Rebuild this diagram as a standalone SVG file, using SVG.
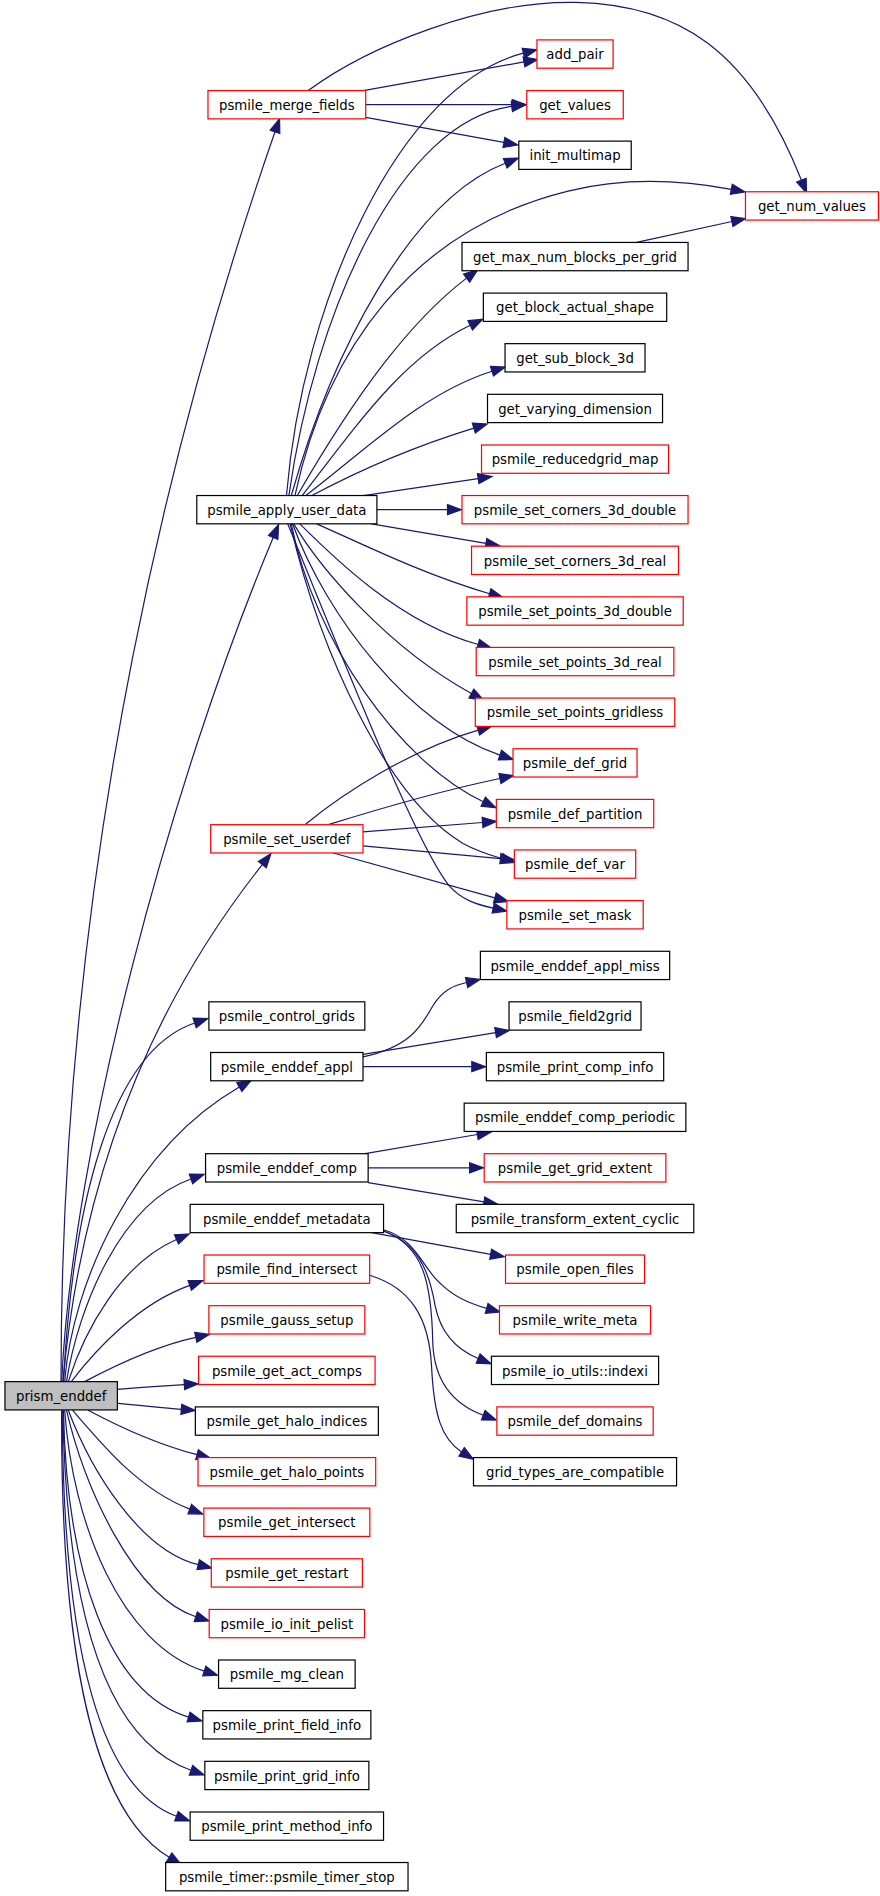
<svg xmlns="http://www.w3.org/2000/svg" width="880" height="1896" viewBox="0 0 880 1896">
<style>
.nd rect{fill:#ffffff;stroke-width:1}
.b rect{stroke:#000000}
.r rect{stroke:#ff0000}
.g rect{fill:#bfbfbf;stroke:#000000}
.nd text{font-family:"DejaVu Sans",Verdana,sans-serif;font-size:11px;text-anchor:middle;fill:#000000}
#edges path{fill:none;stroke:#191970;stroke-width:1;marker-end:url(#ah)}
</style>
<defs>
<marker id="ah" markerUnits="userSpaceOnUse" orient="auto" refX="0" refY="0" markerWidth="1" markerHeight="1" overflow="visible">
<path d="M0,-4.2L11.5,0L0,4.2z" fill="#191970" stroke="#191970" stroke-width="1"/>
</marker>
</defs>
<rect x="0" y="0" width="880" height="1896" fill="#ffffff"/>
<g transform="scale(1.2088,1.2092)">
<g id="edges">
<path d="M50.5,1142.6 C50,700 150,332 227.5,109"/>
<path d="M51,1142.6 C60,950 140,650 226,444.5"/>
<path d="M52,1142.6 C65,1000 110,850 217,715"/>
<path d="M52.5,1142.6 C60,1000 90,870 161,846"/>
<path d="M53.5,1142.6 C60,1060 110,950 198,899"/>
<path d="M55,1142.6 C65,1080 100,995 158,975"/>
<path d="M56.5,1142.6 C70,1100 100,1045 146,1025"/>
<path d="M59,1142.6 C80,1115 115,1078 157,1063"/>
<path d="M70,1142.6 C90,1132 125,1114 162,1106"/>
<path d="M97,1149 C115,1147.5 135,1146 152.5,1145"/>
<path d="M97,1160.5 C115,1162 132,1164 150,1165.5"/>
<path d="M73,1166.2 C95,1178 125,1193 163,1203"/>
<path d="M60,1166.2 C85,1195 115,1232 157,1248"/>
<path d="M56.5,1166.2 C75,1215 115,1282 164,1294"/>
<path d="M55,1166.2 C70,1230 110,1320 162,1337"/>
<path d="M53.5,1166.2 C60,1260 100,1360 169,1382"/>
<path d="M52.5,1166.2 C55,1300 90,1400 156,1420"/>
<path d="M52,1166.2 C55,1340 90,1440 158,1464"/>
<path d="M51.5,1166.2 C52,1370 85,1480 146,1502"/>
<path d="M51,1166.2 C50,1380 80,1500 140,1536"/>
<path d="M300.5,74.9 L433.5,51.2"/>
<path d="M302.5,86.6 L423.8,86.6"/>
<path d="M302.5,97 L416.9,117.8"/>
<path d="M255,74.9 C305,38 400,0 477,2 C560,4 620,40 663,149"/>
<path d="M526.6,200.5 L605.5,183.2"/>
<path d="M237,409.8 C250,250 330,70 433,44"/>
<path d="M239,409.8 C260,260 330,100 423.5,88"/>
<path d="M241,409.8 C275,290 340,165 418,135"/>
<path d="M244,409.8 C270,290 340,190 470,158 C520,145.7 570,150 605,156.6"/>
<path d="M246,409.8 C295,325 340,265 386,230"/>
<path d="M250,409.8 C300,345 335,295 389,269"/>
<path d="M253,409.8 C305,370 350,325 407,307"/>
<path d="M258,409.8 C295,390 340,370 392,354"/>
<path d="M300.5,409.8 L395.6,395.8"/>
<path d="M311.8,421.5 L370.2,421.5"/>
<path d="M307.4,433.2 L402,449.4"/>
<path d="M262,433.2 C300,450 350,475 405,491"/>
<path d="M248,433.2 C275,460 330,515 395.6,533"/>
<path d="M243,433.2 C265,470 320,535 390,573.5"/>
<path d="M242,433.2 C270,510 340,600 413.6,624.5"/>
<path d="M241,433.2 C260,530 330,630 399.8,663"/>
<path d="M240,433.2 C265,540 320,660 383,697.5 C395,704 405,707 415,710"/>
<path d="M238,433.2 C290,560 345,700 372,733 C382,744 394,748 408,751"/>
<path d="M252.3,682 C285,655 340,620 395.6,603.8"/>
<path d="M271.6,682 C310,670 360,655 413.6,643.8"/>
<path d="M300.3,688 L399.2,680.2"/>
<path d="M300.3,699.5 L414,710"/>
<path d="M275.7,705.4 L409.4,742.5"/>
<path d="M300.3,874 C338,866 348,850 358,832 C366,819 375,815 386,812.5"/>
<path d="M300.3,872 L410,854"/>
<path d="M300.3,882.1 L390.3,882.1"/>
<path d="M302,954.1 L394.9,938.2"/>
<path d="M304.55,965.8 L388.5,965.8"/>
<path d="M304.55,978 L400.4,994"/>
<path d="M307.4,1019.4 L405.9,1037.3"/>
<path d="M317.3,1017 C345,1025 350,1050 365,1062 C375,1072 388,1078 402.6,1082"/>
<path d="M317.3,1018 C345,1028 355,1050 360,1080 C364,1100 375,1115 395.6,1123.5"/>
<path d="M317.3,1018 C350,1030 357,1060 358,1110 C359,1140 372,1160 399.8,1170.4"/>
<path d="M305.8,1054.6 C340,1065 355,1090 357,1130 C359,1170 365,1190 381.9,1200.7"/>
</g>
<g id="n-prism_enddef" class="nd g"><rect x="4.1" y="1142.6" width="93" height="23.4"/><text x="50.6" y="1158.6">prism_enddef</text></g>
<g id="n-psmile_merge_fields" class="nd r"><rect x="172.05" y="74.9" width="130.5" height="23.4"/><text x="237.3" y="90.9">psmile_merge_fields</text></g>
<g id="n-psmile_apply_user_data" class="nd b"><rect x="162.8" y="409.8" width="149" height="23.4"/><text x="237.3" y="425.8">psmile_apply_user_data</text></g>
<g id="n-psmile_set_userdef" class="nd r"><rect x="174.3" y="682" width="126" height="23.4"/><text x="237.3" y="698">psmile_set_userdef</text></g>
<g id="n-psmile_control_grids" class="nd b"><rect x="172.8" y="828.5" width="129" height="23.4"/><text x="237.3" y="844.5">psmile_control_grids</text></g>
<g id="n-psmile_enddef_appl" class="nd b"><rect x="174.3" y="870.4" width="126" height="23.4"/><text x="237.3" y="886.4">psmile_enddef_appl</text></g>
<g id="n-psmile_enddef_comp" class="nd b"><rect x="170.05" y="954.1" width="134.5" height="23.4"/><text x="237.3" y="970.1">psmile_enddef_comp</text></g>
<g id="n-psmile_enddef_metadata" class="nd b"><rect x="157.3" y="996" width="160" height="23.4"/><text x="237.3" y="1012">psmile_enddef_metadata</text></g>
<g id="n-psmile_find_intersect" class="nd r"><rect x="168.8" y="1037.9" width="137" height="23.4"/><text x="237.3" y="1053.9">psmile_find_intersect</text></g>
<g id="n-psmile_gauss_setup" class="nd r"><rect x="172.8" y="1079.8" width="129" height="23.4"/><text x="237.3" y="1095.8">psmile_gauss_setup</text></g>
<g id="n-psmile_get_act_comps" class="nd r"><rect x="164.3" y="1121.6" width="146" height="23.4"/><text x="237.3" y="1137.6">psmile_get_act_comps</text></g>
<g id="n-psmile_get_halo_indices" class="nd b"><rect x="161.6" y="1163.5" width="151.4" height="23.4"/><text x="237.3" y="1179.5">psmile_get_halo_indices</text></g>
<g id="n-psmile_get_halo_points" class="nd r"><rect x="163.8" y="1205.4" width="147" height="23.4"/><text x="237.3" y="1221.4">psmile_get_halo_points</text></g>
<g id="n-psmile_get_intersect" class="nd r"><rect x="168.65" y="1247.2" width="137.3" height="23.4"/><text x="237.3" y="1263.2">psmile_get_intersect</text></g>
<g id="n-psmile_get_restart" class="nd r"><rect x="174.8" y="1289.1" width="125" height="23.4"/><text x="237.3" y="1305.1">psmile_get_restart</text></g>
<g id="n-psmile_io_init_pelist" class="nd r"><rect x="173.05" y="1331" width="128.5" height="23.4"/><text x="237.3" y="1347">psmile_io_init_pelist</text></g>
<g id="n-psmile_mg_clean" class="nd b"><rect x="180.8" y="1372.8" width="113" height="23.4"/><text x="237.3" y="1388.8">psmile_mg_clean</text></g>
<g id="n-psmile_print_field_info" class="nd b"><rect x="167.8" y="1414.7" width="139" height="23.4"/><text x="237.3" y="1430.7">psmile_print_field_info</text></g>
<g id="n-psmile_print_grid_info" class="nd b"><rect x="169.45" y="1456.6" width="135.7" height="23.4"/><text x="237.3" y="1472.6">psmile_print_grid_info</text></g>
<g id="n-psmile_print_method_info" class="nd b"><rect x="157.3" y="1498.5" width="160" height="23.4"/><text x="237.3" y="1514.5">psmile_print_method_info</text></g>
<g id="n-psmile_timer_stop" class="nd b"><rect x="137.05" y="1540.3" width="200.5" height="23.4"/><text x="237.3" y="1556.3">psmile_timer::psmile_timer_stop</text></g>
<g id="n-add_pair" class="nd r"><rect x="444.2" y="33" width="63" height="23.4"/><text x="475.7" y="49">add_pair</text></g>
<g id="n-get_values" class="nd r"><rect x="435.8" y="74.9" width="79.8" height="23.4"/><text x="475.7" y="90.9">get_values</text></g>
<g id="n-init_multimap" class="nd b"><rect x="429.2" y="116.7" width="93" height="23.4"/><text x="475.7" y="132.7">init_multimap</text></g>
<g id="n-get_num_values" class="nd r"><rect x="616.7" y="158.6" width="110" height="23.4"/><text x="671.7" y="174.6">get_num_values</text></g>
<g id="n-get_max_num_blocks_per_grid" class="nd b"><rect x="382.2" y="200.5" width="187" height="23.4"/><text x="475.7" y="216.5">get_max_num_blocks_per_grid</text></g>
<g id="n-get_block_actual_shape" class="nd b"><rect x="399.85" y="242.4" width="151.7" height="23.4"/><text x="475.7" y="258.4">get_block_actual_shape</text></g>
<g id="n-get_sub_block_3d" class="nd b"><rect x="417.8" y="284.2" width="115.8" height="23.4"/><text x="475.7" y="300.2">get_sub_block_3d</text></g>
<g id="n-get_varying_dimension" class="nd b"><rect x="403.3" y="326.1" width="144.8" height="23.4"/><text x="475.7" y="342.1">get_varying_dimension</text></g>
<g id="n-psmile_reducedgrid_map" class="nd r"><rect x="398.35" y="368" width="154.7" height="23.4"/><text x="475.7" y="384">psmile_reducedgrid_map</text></g>
<g id="n-psmile_set_corners_3d_double" class="nd r"><rect x="382.2" y="409.8" width="187" height="23.4"/><text x="475.7" y="425.8">psmile_set_corners_3d_double</text></g>
<g id="n-psmile_set_corners_3d_real" class="nd r"><rect x="390.1" y="451.7" width="171.2" height="23.4"/><text x="475.7" y="467.7">psmile_set_corners_3d_real</text></g>
<g id="n-psmile_set_points_3d_double" class="nd r"><rect x="386.2" y="493.6" width="179" height="23.4"/><text x="475.7" y="509.6">psmile_set_points_3d_double</text></g>
<g id="n-psmile_set_points_3d_real" class="nd r"><rect x="393.95" y="535.4" width="163.5" height="23.4"/><text x="475.7" y="551.4">psmile_set_points_3d_real</text></g>
<g id="n-psmile_set_points_gridless" class="nd r"><rect x="393.2" y="577.3" width="165" height="23.4"/><text x="475.7" y="593.3">psmile_set_points_gridless</text></g>
<g id="n-psmile_def_grid" class="nd r"><rect x="424.4" y="619.2" width="102.6" height="23.4"/><text x="475.7" y="635.2">psmile_def_grid</text></g>
<g id="n-psmile_def_partition" class="nd r"><rect x="410.6" y="661.1" width="130.2" height="23.4"/><text x="475.7" y="677.1">psmile_def_partition</text></g>
<g id="n-psmile_def_var" class="nd r"><rect x="425.5" y="702.9" width="100.4" height="23.4"/><text x="475.7" y="718.9">psmile_def_var</text></g>
<g id="n-psmile_set_mask" class="nd r"><rect x="419.3" y="744.8" width="112.8" height="23.4"/><text x="475.7" y="760.8">psmile_set_mask</text></g>
<g id="n-psmile_enddef_appl_miss" class="nd b"><rect x="397.4" y="786.7" width="156.6" height="23.4"/><text x="475.7" y="802.7">psmile_enddef_appl_miss</text></g>
<g id="n-psmile_field2grid" class="nd b"><rect x="421.1" y="828.5" width="109.2" height="23.4"/><text x="475.7" y="844.5">psmile_field2grid</text></g>
<g id="n-psmile_print_comp_info" class="nd b"><rect x="402.35" y="870.4" width="146.7" height="23.4"/><text x="475.7" y="886.4">psmile_print_comp_info</text></g>
<g id="n-psmile_enddef_comp_periodic" class="nd b"><rect x="384" y="912.3" width="183.4" height="23.4"/><text x="475.7" y="928.3">psmile_enddef_comp_periodic</text></g>
<g id="n-psmile_get_grid_extent" class="nd r"><rect x="400.55" y="954.1" width="150.3" height="23.4"/><text x="475.7" y="970.1">psmile_get_grid_extent</text></g>
<g id="n-psmile_transform_extent_cyclic" class="nd b"><rect x="377.45" y="996" width="196.5" height="23.4"/><text x="475.7" y="1012">psmile_transform_extent_cyclic</text></g>
<g id="n-psmile_open_files" class="nd r"><rect x="418.2" y="1037.9" width="115" height="23.4"/><text x="475.7" y="1053.9">psmile_open_files</text></g>
<g id="n-psmile_write_meta" class="nd r"><rect x="413.2" y="1079.8" width="125" height="23.4"/><text x="475.7" y="1095.8">psmile_write_meta</text></g>
<g id="n-psmile_io_utils-indexi" class="nd b"><rect x="406.55" y="1121.6" width="138.3" height="23.4"/><text x="475.7" y="1137.6">psmile_io_utils::indexi</text></g>
<g id="n-psmile_def_domains" class="nd r"><rect x="411.05" y="1163.5" width="129.3" height="23.4"/><text x="475.7" y="1179.5">psmile_def_domains</text></g>
<g id="n-grid_types_are_compatible" class="nd b"><rect x="391.7" y="1205.4" width="168" height="23.4"/><text x="475.7" y="1221.4">grid_types_are_compatible</text></g>
</g>
</svg>
